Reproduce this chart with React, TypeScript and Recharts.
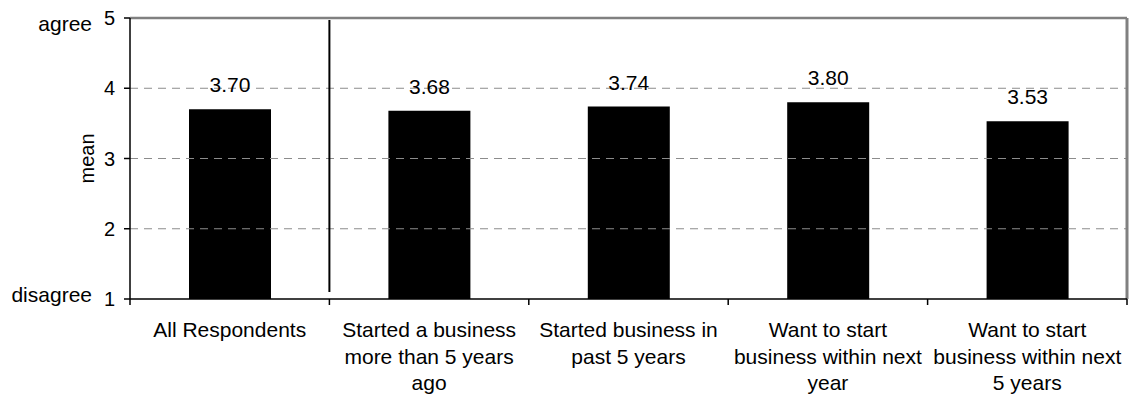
import React from 'react';
import { BarChart, Bar, XAxis, YAxis, ReferenceLine, LabelList } from 'recharts';

const categories = [
  'All Respondents',
  'Started a business\nmore than 5 years\nago',
  'Started business in\npast 5 years',
  'Want to start\nbusiness within next\nyear',
  'Want to start\nbusiness within next\n5 years',
];
const means = [3.7, 3.68, 3.74, 3.8, 3.53];
const yTicks = [1, 2, 3, 4, 5];
const gridValues = [2, 3, 4];
const scaleWords: Record<number, string> = { 5: 'agree', 1: 'disagree' };
const yTitle = 'mean';

const data = categories.map((name, i) => ({ name, mean: means[i] }));

const FONT = '"Liberation Sans", Arial, sans-serif';
const W = 1130;
const H = 399;
const Y_AXIS_W = 130;
const X_AXIS_H = 100;
const MARGIN = { top: 18, right: 3, bottom: 0, left: 0 };
const PLOT_BOTTOM = H - MARGIN.bottom - X_AXIS_H;
const BAND = (W - Y_AXIS_W - MARGIN.right) / categories.length;

// category labels, with tick marks on the category boundaries (Excel style)
const XTick = (props: any) => {
  const { x, payload, index } = props;
  const lines = String(payload.value).split('\n');
  const left = x - BAND / 2;
  const right = x + BAND / 2;
  return (
    <g>
      <line x1={left} x2={left} y1={PLOT_BOTTOM} y2={PLOT_BOTTOM + 6} stroke="#000" strokeWidth={1.5} />
      {index === categories.length - 1 && (
        <line x1={right} x2={right} y1={PLOT_BOTTOM} y2={PLOT_BOTTOM + 6} stroke="#000" strokeWidth={1.5} />
      )}
      <text x={x} y={PLOT_BOTTOM + 38} textAnchor="middle" fontSize={21} fontFamily={FONT} fill="#000">
        {lines.map((l, i) => (
          <tspan key={i} x={x} dy={i === 0 ? 0 : 26.5}>
            {l}
          </tspan>
        ))}
      </text>
    </g>
  );
};

const YTick = (props: any) => {
  const { x, y, payload } = props;
  const word = scaleWords[payload.value];
  return (
    <g>
      <text x={x} y={y} dy={7} textAnchor="end" fontSize={20} fontFamily={FONT} fill="#000">
        {payload.value}
      </text>
      {word && (
        <text
          x={x - 23}
          y={y + (payload.value === 5 ? 13 : 3)}
          textAnchor="end"
          fontSize={21}
          fontFamily={FONT}
          fill="#000"
        >
          {word}
        </text>
      )}
    </g>
  );
};

const MeanLabel = (props: any) => {
  const { viewBox } = props;
  const cx = 87;
  const cy = viewBox.y + viewBox.height / 2;
  return (
    <text
      x={cx}
      y={cy}
      transform={`rotate(-90, ${cx}, ${cy})`}
      textAnchor="middle"
      dominantBaseline="central"
      fontSize={20}
      fontFamily={FONT}
      fill="#000"
    >
      {yTitle}
    </text>
  );
};

export default function App() {
  return (
    <div style={{ position: 'absolute', left: 0, top: 0, width: W, height: H, background: '#fff' }}>
      <BarChart width={W} height={H} data={data} margin={MARGIN}>
        {gridValues.map((v) => (
          <ReferenceLine key={v} y={v} stroke="#8c8c8c" strokeDasharray="8 6" strokeWidth={1} />
        ))}
        <ReferenceLine y={5} stroke="#808080" strokeWidth={2.5} />
        <ReferenceLine x={categories[categories.length - 1]} position="end" stroke="#808080" strokeWidth={3} />
        <XAxis
          dataKey="name"
          height={X_AXIS_H}
          interval={0}
          tickLine={false}
          axisLine={{ stroke: '#000', strokeWidth: 1.5 }}
          tick={<XTick />}
        />
        <YAxis
          width={Y_AXIS_W}
          domain={[1, 5]}
          ticks={yTicks}
          allowDataOverflow
          tickSize={6}
          tickMargin={9}
          tickLine={{ stroke: '#000', strokeWidth: 1.5 }}
          axisLine={{ stroke: '#000', strokeWidth: 1.5 }}
          tick={<YTick />}
          label={<MeanLabel />}
        />
        <Bar dataKey="mean" fill="#000" barSize={82} isAnimationActive={false}>
          <LabelList
            dataKey="mean"
            position="top"
            offset={17}
            formatter={(v: any) => Number(v).toFixed(2)}
            fontSize={21}
            fontFamily={FONT}
            fill="#000"
          />
        </Bar>
        <ReferenceLine
          segment={[
            { x: categories[1], y: 4.97 },
            { x: categories[1], y: 1.1 },
          ]}
          position="start"
          stroke="#000"
          strokeWidth={2}
        />
      </BarChart>
    </div>
  );
}
